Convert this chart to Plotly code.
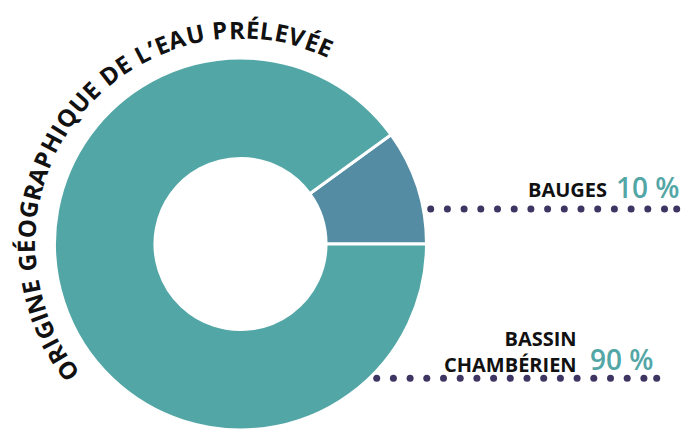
import numpy as np
import plotly.graph_objects as go

# ---- data ----
categories = ["Bauges", "Bassin chambérien"]
shares = [10, 90]
label_lines = [["BAUGES"], ["BASSIN", "CHAMBÉRIEN"]]
pct_labels = ["10 %", "90 %"]
title_text = "ORIGINE GÉOGRAPHIQUE DE L’EAU PRÉLEVÉE"

# ---- style / layout ----
colors = ["#538CA3", "#53A6A6"]
dot_color = "#3E3563"
teal = "#53A6A6"
W, H = 686, 430
cx, cy, R = 240.5, 244.0, 186.0
FONT = "Open Sans"

fig = go.Figure()
fig.add_trace(go.Pie(
    labels=categories, values=shares, hole=0.46, sort=False,
    direction="counterclockwise", rotation=90 - shares[0] * 3.6,
    marker=dict(colors=colors, line=dict(color="white", width=3)),
    textinfo="none", hoverinfo="label+percent", showlegend=False,
    domain=dict(x=[(cx - R) / W, (cx + R) / W], y=[0, 1 - (cy - R) / H]),
))

# leader dotted lines (decoration)
leaders = [(430.7, 676.7, 209.0), (376.7, 656.7, 378.3)]
step = 16.7
for x0, x1, yy in leaders:
    xs = np.arange(x0, x1 - 8, step)
    xs = np.append(xs, x1)
    fig.add_trace(go.Scatter(
        x=xs, y=[yy] * len(xs), mode="markers",
        marker=dict(size=7, color=dot_color), hoverinfo="skip", showlegend=False,
    ))

annotations = []
# curved title
widths = {'O': .80, 'R': .68, 'I': .37, 'G': .73, 'N': .81, 'E': .57, 'É': .57, ' ': .30,
          'A': .70, 'P': .65, 'H': .77, 'Q': .80, 'U': .76, 'D': .75, 'L': .57, '’': .28, 'V': .67}
ws = [widths.get(c, .6) for c in title_text]
pos = np.cumsum(ws) - np.array(ws) / 2
th0, th1 = 216.3, 66.7
rt = 215.0
for ch, p in zip(title_text, pos):
    if ch == " ":
        continue
    th = th0 + (p - pos[0]) / (pos[-1] - pos[0]) * (th1 - th0)
    t = np.radians(th)
    annotations.append(dict(
        x=cx + rt * np.cos(t), y=cy - rt * np.sin(t), xref="x", yref="y",
        text=ch, showarrow=False, xanchor="center", yanchor="middle",
        textangle=90 - th,
        font=dict(family=FONT, size=24, color="#111111", weight="bold"),
    ))

# slice labels
label_pos = [  # (right x of name, block center y, pct left x, pct center y)
    (607.5, 189.5, 615.0, 186.5),
    (577.5, 351.5, 589.0, 358.5),
]
for lines, pct, (xr, yc, xp, yp) in zip(label_lines, pct_labels, label_pos):
    annotations.append(dict(
        x=xr, y=yc, xref="x", yref="y", text="<br>".join(lines), showarrow=False,
        xanchor="right", yanchor="middle", align="right", borderpad=0,
        font=dict(family=FONT, size=20, color="#111111", weight="bold"),
    ))
    annotations.append(dict(
        x=xp, y=yp, xref="x", yref="y", text=pct, showarrow=False,
        xanchor="left", yanchor="middle", borderpad=0,
        font=dict(family=FONT, size=28, color=teal, weight=600),
    ))

fig.update_layout(
    width=W, height=H, margin=dict(l=0, r=0, t=0, b=0),
    paper_bgcolor="white", plot_bgcolor="rgba(0,0,0,0)",
    xaxis=dict(range=[0, W], visible=False, fixedrange=True),
    yaxis=dict(range=[H, 0], visible=False, fixedrange=True),
    annotations=annotations, showlegend=False,
)
fig.write_html(
    "out.html",
    config={"displayModeBar": False},
    post_script="document.body.style.margin='0';document.body.style.overflow='hidden';",
)
